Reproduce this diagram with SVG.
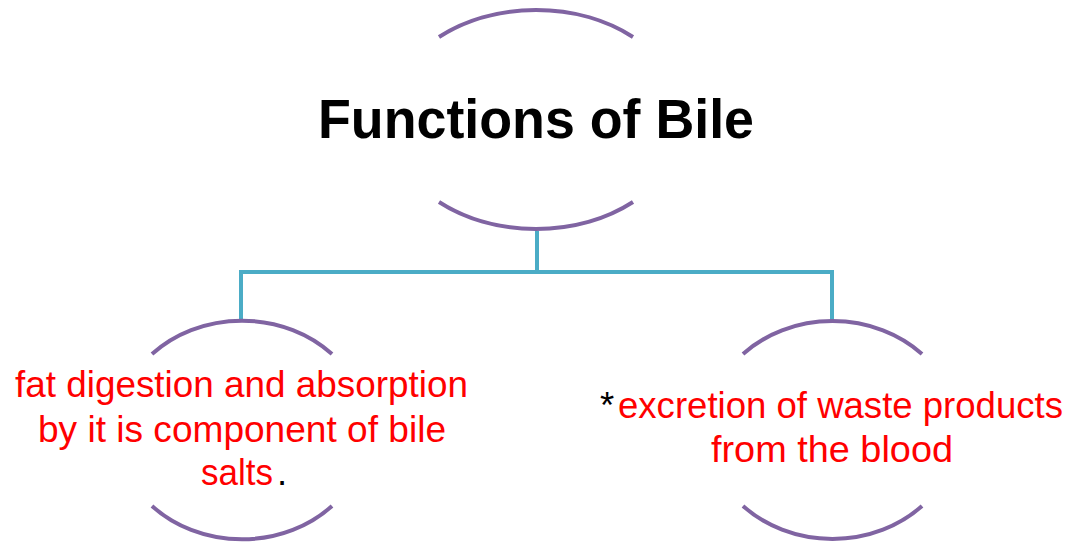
<svg xmlns="http://www.w3.org/2000/svg" width="1070" height="542" viewBox="0 0 1070 542">
<style>
.arc{fill:none;stroke:#8064A2;stroke-width:4;stroke-linecap:butt}
.conn{fill:none;stroke:#4BACC6;stroke-width:4}
.t{font-family:"Liberation Sans",Arial,sans-serif;font-size:36.5px;fill:#FF0000}
.title{font-family:"Liberation Sans",Arial,sans-serif;font-size:55px;font-weight:bold;fill:#000}
.k{fill:#000}
</style>
<rect width="1070" height="542" fill="#fff"/>
<g id="connectors">
<path class="conn" d="M537 231 V272 M241 272 H832 M241 270 V321 M832 270 V321"/>
</g>
<g id="node-title">
<path class="arc" d="M439 37 A148 110 0 0 1 633 37"/>
<path class="arc" d="M439 202 A148 110 0 0 0 633 202"/>
<text class="title" x="318" y="138" textLength="436" lengthAdjust="spacingAndGlyphs">Functions of Bile</text>
</g>
<g id="node-left">
<path class="arc" d="M152 354 A125 109 0 0 1 332 354"/>
<path class="arc" d="M152 506 A125 109 0 0 0 332 506"/>
<text class="t" x="15" y="397" textLength="453" lengthAdjust="spacingAndGlyphs">fat digestion and absorption</text>
<text class="t" x="38" y="442" textLength="408" lengthAdjust="spacingAndGlyphs">by it is component of bile</text>
<text class="t" x="201" y="485" textLength="72" lengthAdjust="spacingAndGlyphs">salts</text>
<text class="t k" x="277" y="485">.</text>
</g>
<g id="node-right">
<path class="arc" d="M743 354 A125 109 0 0 1 922 354"/>
<path class="arc" d="M743 506 A125 109 0 0 0 922 506"/>
<text class="t k" x="600" y="418">*</text>
<text class="t" x="618" y="418" textLength="445" lengthAdjust="spacingAndGlyphs">excretion of waste products</text>
<text class="t" x="711" y="462" textLength="242" lengthAdjust="spacingAndGlyphs">from the blood</text>
</g>
</svg>
